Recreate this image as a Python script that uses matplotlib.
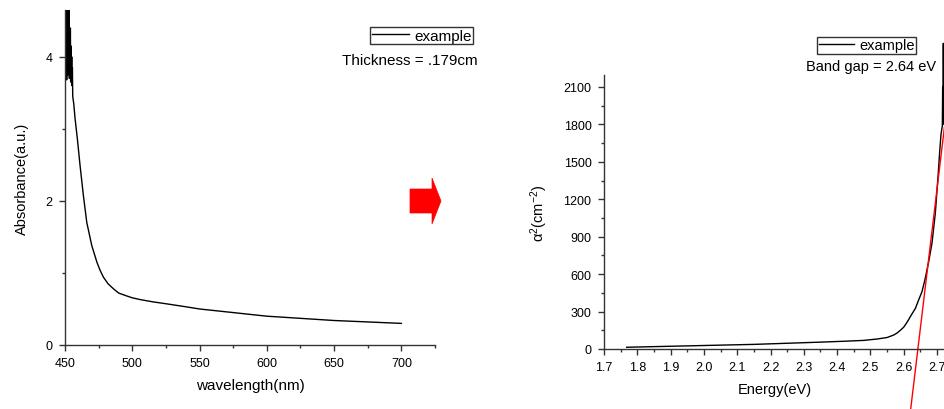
import matplotlib
matplotlib.use("Agg")
import matplotlib.pyplot as plt
from matplotlib.patches import Polygon
from matplotlib.ticker import MultipleLocator, FormatStrFormatter

plt.rcParams['font.family'] = ['Liberation Sans', 'DejaVu Sans']
plt.rcParams['mathtext.fontset'] = 'custom'
plt.rcParams['mathtext.rm'] = 'Liberation Sans'
plt.rcParams['mathtext.it'] = 'Liberation Sans:italic'

# ---- left panel data: absorbance vs wavelength ----
wavelength = [450.0, 450.25, 450.5, 450.75, 451.0, 451.25, 451.5, 451.75, 452.0, 452.25,
              452.5, 452.75, 453.0, 453.25, 453.5, 453.75, 454.0, 454.25, 454.5, 454.75,
              455.0, 455.25, 455.5, 455.75, 456.5, 457.5, 459.2, 461.2, 463.7, 466.2,
              469.9, 473.7, 476, 478.6, 482, 486, 490, 496, 500, 506, 515, 526, 540, 550,
              575, 600, 625, 650, 675, 700]
absorbance = [4.9, 3.7, 5.2, 3.8, 4.8, 3.68, 5.1, 3.9, 4.95, 3.75,
              4.7, 3.85, 5.0, 3.7, 4.3, 3.9, 4.4, 3.65, 4.15, 3.7,
              4.0, 3.6, 3.85, 3.45, 3.35, 3.14, 2.86, 2.49, 2.07, 1.70,
              1.38, 1.15, 1.04, 0.94, 0.85, 0.78, 0.72, 0.68, 0.655, 0.63, 0.60, 0.57, 0.53, 0.50,
              0.45, 0.40, 0.37, 0.34, 0.32, 0.30]

# ---- right panel data: alpha^2 vs energy ----
energy = [1.768, 1.85, 1.95, 2.05, 2.15, 2.25, 2.35, 2.42, 2.48, 2.52, 2.55, 2.57, 2.58, 2.59,
          2.60, 2.61, 2.625, 2.635, 2.645, 2.655, 2.665, 2.675, 2.685, 2.695, 2.703, 2.708,
          2.712, 2.716, 2.717, 2.718, 2.719, 2.720, 2.721, 2.722, 2.723]
alpha_sq = [14, 19, 25, 31, 37, 46, 55, 62, 69, 80, 92, 112, 128, 150,
            175, 214, 282, 325, 394, 460, 570, 700, 850, 1090, 1380, 1580,
            1720, 1790, 2100, 1800, 2450, 1900, 2300, 2000, 2200]

# linear fit (Tauc extrapolation)
fit_energy = [2.621, 2.730]
fit_alpha_sq = [-481, 1950]

legend_label = "example"
thickness_text = "Thickness = .179cm"
gap_text = "Band gap = 2.64 eV"

W, H = 945, 410
fig = plt.figure(figsize=(W / 100, H / 100), dpi=100)

def px_axes(l, t, r, b):
    return fig.add_axes([l / W, 1 - b / H, (r - l) / W, (b - t) / H])

spine_col = '#333333'

def style(ax):
    for s in ['top', 'right']:
        ax.spines[s].set_visible(False)
    for s in ['left', 'bottom']:
        ax.spines[s].set_color(spine_col)
        ax.spines[s].set_linewidth(1.0)
    ax.tick_params(which='major', direction='out', length=4, width=1, color=spine_col,
                   labelsize=9)
    ax.tick_params(which='minor', direction='out', length=2.5, width=1, color=spine_col)
    ax.tick_params(axis='x', which='major', pad=5)
    ax.tick_params(axis='y', which='major', pad=5)

# Left axes
ax1 = px_axes(65, 11, 435, 346)
ax1.plot(wavelength, absorbance, color='black', lw=1.0, label=legend_label)
ax1.set_xlim(450, 725)
ax1.set_ylim(0, 4.65)
ax1.xaxis.set_major_locator(MultipleLocator(50))
ax1.xaxis.set_minor_locator(MultipleLocator(25))
ax1.yaxis.set_major_locator(MultipleLocator(2))
ax1.yaxis.set_minor_locator(MultipleLocator(1))
style(ax1)
ax1.set_xlabel("wavelength(nm)", fontsize=11, labelpad=6)
ax1.set_ylabel("Absorbance(a.u.)", fontsize=10.5, labelpad=12)
leg1 = ax1.legend(loc='upper right', bbox_to_anchor=(473 / W, 1 - 28 / H),
                  bbox_transform=fig.transFigure, fontsize=11, frameon=True,
                  fancybox=False, edgecolor='black', handlelength=2.4,
                  handletextpad=0.35, borderpad=0.1, borderaxespad=0)
leg1.get_frame().set_linewidth(1.0)
fig.text(478 / W, 1 - 61 / H, thickness_text, ha='right', va='center', fontsize=11)

# Right axes
ax2 = px_axes(604, 76, 945, 350)
ax2.plot(energy, alpha_sq, color='black', lw=1.0, label=legend_label, clip_on=False)
ax2.plot(fit_energy, fit_alpha_sq, color='red', lw=1.0, clip_on=False)
ax2.set_xlim(1.7, 2.724)
ax2.set_ylim(0, 2196)
ax2.xaxis.set_major_locator(MultipleLocator(0.1))
ax2.xaxis.set_minor_locator(MultipleLocator(0.05))
ax2.yaxis.set_major_locator(MultipleLocator(300))
ax2.yaxis.set_minor_locator(MultipleLocator(150))
ax2.xaxis.set_major_formatter(FormatStrFormatter('%.1f'))
style(ax2)
ax2.set_xlabel("Energy(eV)", fontsize=10.5, labelpad=6)
ax2.set_ylabel("α$^{2}$(cm$^{-2}$)", fontsize=10.5, labelpad=10)
leg2 = ax2.legend(loc='upper right', bbox_to_anchor=(916 / W, 1 - 37.7 / H),
                  bbox_transform=fig.transFigure, fontsize=10.5, frameon=True,
                  fancybox=False, edgecolor='black', handlelength=2.4,
                  handletextpad=0.35, borderpad=0.1, borderaxespad=0)
leg2.get_frame().set_linewidth(1.0)
fig.text(936 / W, 1 - 67 / H, gap_text, ha='right', va='center', fontsize=10.5)

# Red arrow between panels (figure pixel coords)
arrow_pts = [(410, 190), (432, 190), (432, 179), (441, 202), (432, 225), (432, 214), (410, 214)]
arrow = Polygon([(x / W, 1 - y / H) for x, y in arrow_pts], closed=True,
                transform=fig.transFigure, facecolor='red', edgecolor='red', lw=0.5)
fig.patches.append(arrow)

fig.savefig("out.png", dpi=100)
